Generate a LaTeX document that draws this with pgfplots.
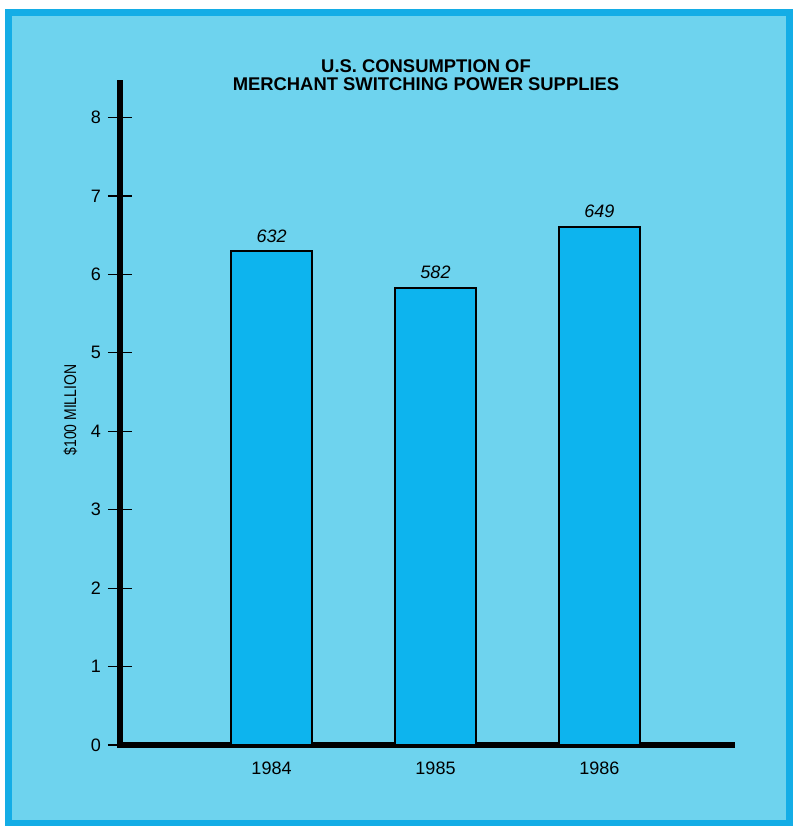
\documentclass[border=0pt]{standalone}
\usepackage{pgfplots}
\pgfplotsset{compat=1.18}
\usepackage{fontspec}
\setmainfont{Liberation Sans}
\newfontfamily\narrowfont[FakeStretch=0.82]{Liberation Sans}
\definecolor{bgblue}{HTML}{6ED3EE}
\definecolor{barblue}{HTML}{0DB4EE}
\definecolor{frameblue}{HTML}{14ADE6}
\begin{document}
\begin{tikzpicture}[x=1pt,y=1pt]
\useasboundingbox (-60,-40.5) rectangle (338,372.5);
\fill[white] (-60,-40.5) rectangle (338,372.5);
\draw[frameblue, line width=3.5pt, fill=bgblue] (-55.5,-39) rectangle (334.5,366);
\begin{axis}[
  at={(0,0)}, anchor=south west,
  scale only axis, width=306pt, height=331pt,
  xmin=-0.924, xmax=2.808, ymin=0, ymax=8.44,
  axis x line*=bottom, axis y line*=left,
  axis line style={line width=3pt, -, line cap=rect},
  ytick={0,1,2,3,4,5,6,7,8},
  y tick style={black, line width=0.6pt},
  major tick length=12pt, tick align=center,
  xtick={0,1,2}, xticklabels={1984,1985,1986},
  x tick style={draw=none},
  xticklabel style={yshift=7pt},
  ticklabel style={font=\fontsize{9}{10}\selectfont},
  /pgf/number format/assume math mode=true,
  ybar, bar width=40.5pt,
  nodes near coords, point meta=explicit symbolic,
  nodes near coords style={font=\fontsize{9}{10}\selectfont\itshape, anchor=south, yshift=0.5pt},
  ylabel={\$100 MILLION},
  ylabel style={at={(axis description cs:-0.081,0.506)}, anchor=center, font=\narrowfont\fontsize{8.5}{9}\selectfont},
  clip=false,
]
\addplot[fill=barblue, draw=black, line width=1pt] table[meta=label] {
x y label
0 6.30 632
1 5.83 582
2 6.61 649
};
\end{axis}
\node[align=center, font=\fontsize{9.2}{9}\selectfont\bfseries] at (153,335) {U.S. CONSUMPTION OF\\MERCHANT SWITCHING POWER SUPPLIES};
\end{tikzpicture}
\end{document}
